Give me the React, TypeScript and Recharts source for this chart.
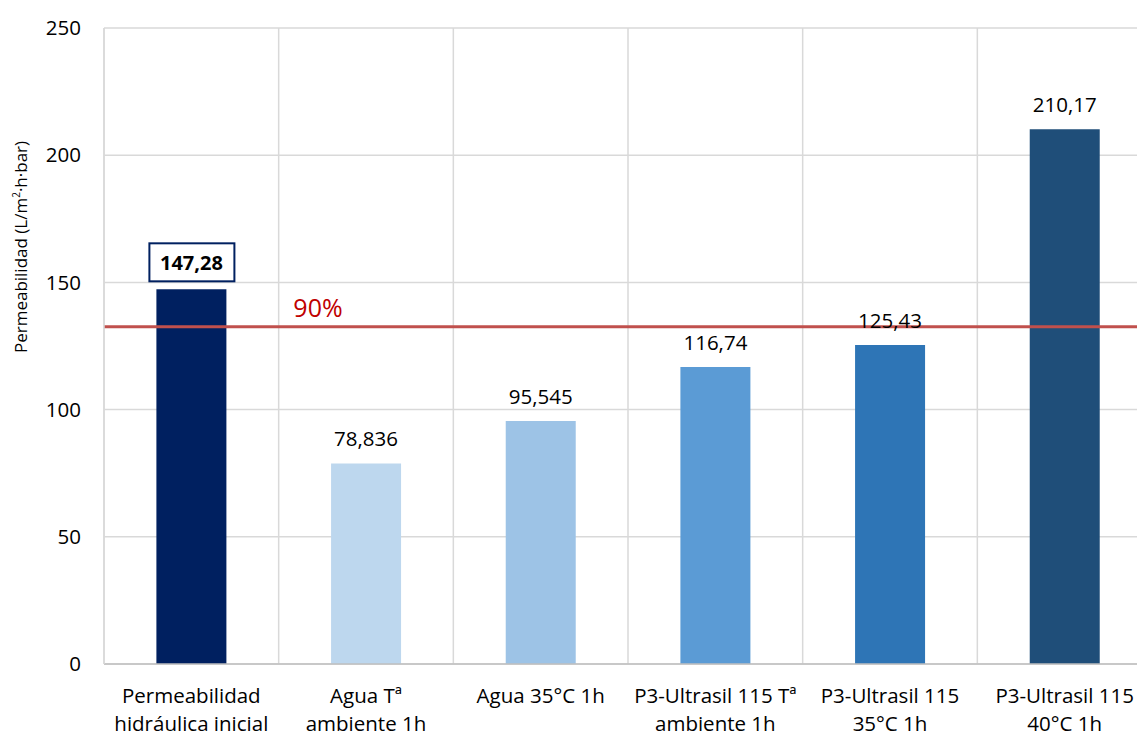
import React from "react";
import {
  BarChart,
  Bar,
  XAxis,
  YAxis,
  CartesianGrid,
  ReferenceLine,
  LabelList,
  Cell,
} from "recharts";

// Treatment categories (two-line axis labels)
const categories = [
  "Permeabilidad\nhidráulica inicial",
  "Agua Tª\nambiente 1h",
  "Agua 35°C 1h",
  "P3-Ultrasil 115 Tª\nambiente 1h",
  "P3-Ultrasil 115\n35°C 1h",
  "P3-Ultrasil 115\n40°C 1h",
];

// Permeability values, L/m²·h·bar
const permeability = [147.28, 78.836, 95.545, 116.74, 125.43, 210.17];

const barColors = ["#002060", "#BDD7EE", "#9DC3E6", "#5B9BD5", "#2E75B6", "#1F4E79"];

const yTicks = [0, 50, 100, 150, 200, 250];

// 90% of the initial permeability
const thresholdLabel = "90%";
const thresholdValue = 132.55;

const data = categories.map((name, i) => ({ name, value: permeability[i] }));

const FONT = "'Open Sans', sans-serif";

const fmt = (v: number) => String(v).replace(".", ",");

const XTick = (props: any) => {
  const { x, y, payload } = props;
  const lines = String(payload.value).split("\n");
  return (
    <g transform={`translate(${x},${y})`}>
      {lines.map((ln: string, i: number) => (
        <text
          key={i}
          x={0}
          y={31 + i * 28}
          textAnchor="middle"
          fontSize={20.5}
          fontFamily={FONT}
          fill="#000"
        >
          {ln}
        </text>
      ))}
    </g>
  );
};

const ValueLabel = (props: any) => {
  const { x, y, width, value, index } = props;
  const cx = x + width / 2;
  if (index === 0) {
    return (
      <g>
        <rect
          x={cx - 42}
          y={y - 46}
          width={85}
          height={38}
          fill="#fff"
          stroke="#002060"
          strokeWidth={2}
        />
        <text
          x={cx}
          y={y - 27}
          textAnchor="middle"
          dominantBaseline="central"
          fontSize={20}
          fontWeight="bold"
          fontFamily={FONT}
          fill="#000"
        >
          {fmt(value)}
        </text>
      </g>
    );
  }
  return (
    <text
      x={cx}
      y={y - 25}
      textAnchor="middle"
      dominantBaseline="central"
      fontSize={20.5}
      fontFamily={FONT}
      fill="#000"
    >
      {fmt(value)}
    </text>
  );
};

const ThresholdLabel = (props: any) => {
  const { viewBox } = props;
  return (
    <text
      x={viewBox.x + 214}
      y={viewBox.y - 20}
      textAnchor="middle"
      dominantBaseline="central"
      fontSize={25}
      fontFamily={FONT}
      fill="#C00000"
    >
      {thresholdLabel}
    </text>
  );
};

export default function App() {
  return (
    <div
      style={{
        position: "fixed",
        left: 0,
        top: 0,
        width: 1137,
        height: 733,
        overflow: "hidden",
        background: "#fff",
      }}
    >
      <BarChart
        width={1160}
        height={733}
        data={data}
        margin={{ top: 28, right: 8, bottom: 9, left: 30 }}
        barCategoryGap="30%"
      >
        <CartesianGrid
          stroke="#D9D9D9"
          strokeWidth={1.5}
          verticalCoordinatesGenerator={({ offset }: any) =>
            categories.map((_, i) => offset.left + (i * offset.width) / categories.length).concat([offset.left + offset.width])
          }
        />
        <XAxis
          dataKey="name"
          interval={0}
          tick={<XTick />}
          tickLine={false}
          axisLine={{ stroke: "#BFBFBF", strokeWidth: 1.5 }}
          height={60}
        />
        <YAxis
          domain={[0, 250]}
          ticks={yTicks}
          width={74}
          tickLine={false}
          tickSize={0}
          tickMargin={23}
          axisLine={{ stroke: "#D9D9D9", strokeWidth: 1.5 }}
          tick={{ fontSize: 20.5, fontFamily: FONT, fill: "#000" }}
        />
        <Bar dataKey="value" isAnimationActive={false}>
          {data.map((_, i) => (
            <Cell key={i} fill={barColors[i]} />
          ))}
          <LabelList dataKey="value" content={<ValueLabel />} />
        </Bar>
        <ReferenceLine
          y={thresholdValue}
          stroke="#C0504D"
          strokeWidth={3}
          label={<ThresholdLabel />}
        />
      </BarChart>
      <div
        style={{
          position: "absolute",
          left: 20,
          top: 247,
          transform: "translate(-50%, -50%) rotate(-90deg)",
          whiteSpace: "nowrap",
          fontSize: 17,
          fontFamily: FONT,
          color: "#000",
        }}
      >
        Permeabilidad (L/m<sup style={{ fontSize: 10 }}>2</sup>·h·bar)
      </div>
    </div>
  );
}
